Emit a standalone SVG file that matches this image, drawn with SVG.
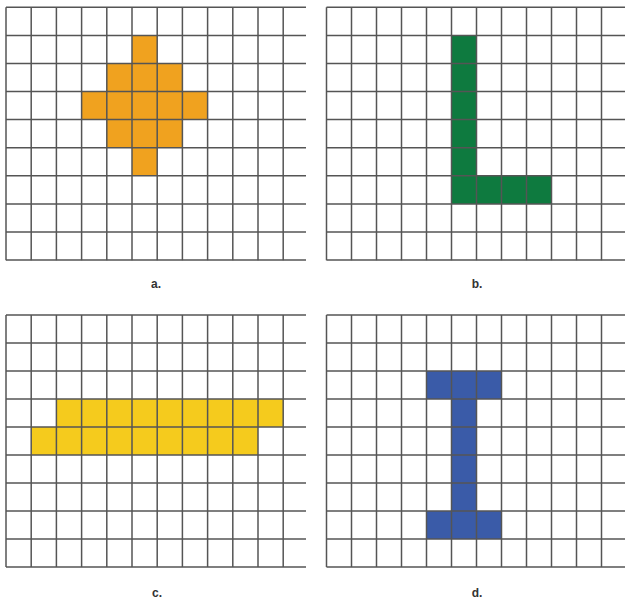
<svg xmlns="http://www.w3.org/2000/svg" width="625" height="600" viewBox="0 0 625 600">
<style>
.grid{fill:none;stroke:#555;stroke-width:1.5}
.lbl{font-family:"Liberation Sans",Arial,sans-serif;font-size:12px;font-weight:bold;fill:#333;text-anchor:middle}
</style>
<defs>
<path id="vlinesL" d="M6,0V253 M31.2,0V253 M56.4,0V253 M81.6,0V253 M106.8,0V253 M132,0V253 M157.2,0V253 M182.4,0V253 M207.6,0V253 M232.8,0V253 M258,0V253 M283.2,0V253"/>
<path id="vlinesR" d="M326.5,0V253 M351.5,0V253 M376.5,0V253 M401.5,0V253 M426.5,0V253 M451.5,0V253 M476.5,0V253 M501.5,0V253 M526.5,0V253 M551.5,0V253 M576.5,0V253 M601.5,0V253"/>
</defs>
<rect width="625" height="600" fill="#fff"/>
<g id="panel-a">
<path d="M132,35.4H157.2V63.5H182.4V91.5H207.6V119.6H182.4V147.7H157.2V175.8H132V147.7H106.8V119.6H81.6V91.5H106.8V63.5H132Z" fill="#f0a21f"/>
<use href="#vlinesL" class="grid" transform="translate(0,7.3)"/>
<path class="grid" d="M6,7.3H306 M6,35.4H306 M6,63.5H306 M6,91.5H306 M6,119.6H306 M6,147.7H306 M6,175.8H306 M6,203.9H306 M6,231.9H306 M6,260H306"/>
<text class="lbl" x="156" y="288">a.</text>
</g>
<g id="panel-b">
<path d="M451.5,35.4H476.5V175.8H551.5V203.9H451.5Z" fill="#0e7a3f"/>
<use href="#vlinesR" class="grid" transform="translate(0,7.3)"/>
<path class="grid" d="M326.5,7.3H625 M326.5,35.4H625 M326.5,63.5H625 M326.5,91.5H625 M326.5,119.6H625 M326.5,147.7H625 M326.5,175.8H625 M326.5,203.9H625 M326.5,231.9H625 M326.5,260H625"/>
<text class="lbl" x="477" y="288">b.</text>
</g>
<g id="panel-c">
<path d="M56.4,399H283.2V427H258V455H31.2V427H56.4Z" fill="#f5cb1d"/>
<use href="#vlinesL" class="grid" transform="translate(0,315) scale(1,0.996)"/>
<path class="grid" d="M6,315H306 M6,343H306 M6,371H306 M6,399H306 M6,427H306 M6,455H306 M6,483H306 M6,511H306 M6,539H306 M6,567H306"/>
<text class="lbl" x="157" y="597">c.</text>
</g>
<g id="panel-d">
<path d="M426.5,371H501.5V399H476.5V511H501.5V539H426.5V511H451.5V399H426.5Z" fill="#3a5ba8"/>
<use href="#vlinesR" class="grid" transform="translate(0,315) scale(1,0.996)"/>
<path class="grid" d="M326.5,315H625 M326.5,343H625 M326.5,371H625 M326.5,399H625 M326.5,427H625 M326.5,455H625 M326.5,483H625 M326.5,511H625 M326.5,539H625 M326.5,567H625"/>
<text class="lbl" x="477" y="597">d.</text>
</g>
</svg>
